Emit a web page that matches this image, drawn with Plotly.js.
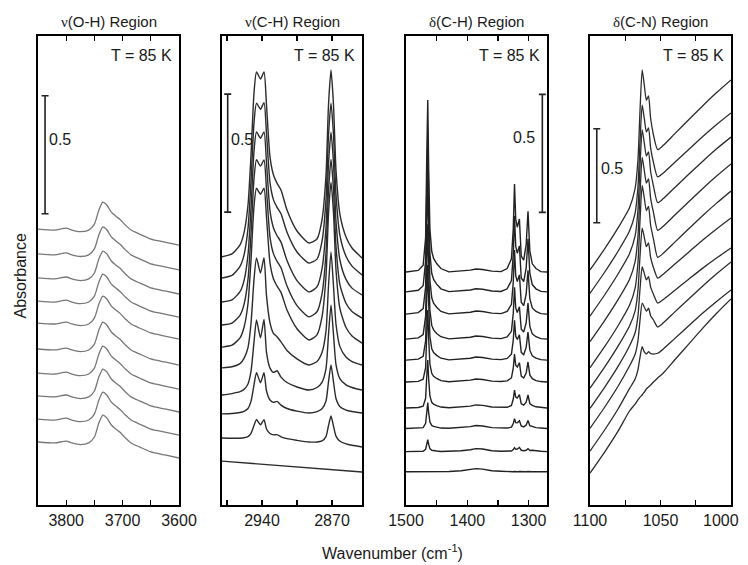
<!DOCTYPE html>
<html>
<head>
<meta charset="utf-8">
<script src="https://cdn.plot.ly/plotly-3.0.1.min.js"></script>
<style>html,body{margin:0;padding:0;background:#fff;}#chart{width:748px;height:565px;}</style>
</head>
<body>
<div id="chart"></div>
<script>
// ---------- DATA (absorbance, stacked spectra) ----------
// nu(O-H) region
const ohWn = [3850, 3820, 3800, 3790, 3775, 3760, 3750, 3742, 3735, 3728, 3720, 3712, 3705, 3695, 3685, 3670, 3650, 3625, 3600];
const ohAbs = [
  [0.267, 0.263, 0.271, 0.263, 0.256, 0.263, 0.288, 0.348, 0.381, 0.369, 0.339, 0.322, 0.309, 0.284, 0.263, 0.246, 0.225, 0.212, 0.199],
  [0.364, 0.360, 0.368, 0.360, 0.353, 0.360, 0.385, 0.445, 0.478, 0.466, 0.436, 0.419, 0.406, 0.381, 0.360, 0.343, 0.322, 0.309, 0.296],
  [0.462, 0.458, 0.466, 0.458, 0.451, 0.458, 0.483, 0.543, 0.576, 0.564, 0.534, 0.517, 0.504, 0.479, 0.458, 0.441, 0.420, 0.407, 0.394],
  [0.559, 0.555, 0.563, 0.555, 0.548, 0.555, 0.580, 0.640, 0.673, 0.661, 0.631, 0.614, 0.601, 0.576, 0.555, 0.538, 0.517, 0.504, 0.491],
  [0.661, 0.657, 0.665, 0.657, 0.650, 0.657, 0.682, 0.742, 0.775, 0.763, 0.733, 0.716, 0.703, 0.678, 0.657, 0.640, 0.619, 0.606, 0.593],
  [0.771, 0.767, 0.775, 0.767, 0.760, 0.767, 0.792, 0.852, 0.885, 0.873, 0.843, 0.826, 0.813, 0.788, 0.767, 0.750, 0.729, 0.716, 0.703],
  [0.864, 0.860, 0.868, 0.860, 0.853, 0.860, 0.885, 0.945, 0.978, 0.966, 0.936, 0.919, 0.906, 0.881, 0.860, 0.843, 0.822, 0.809, 0.796],
  [0.962, 0.958, 0.966, 0.958, 0.951, 0.958, 0.983, 1.043, 1.076, 1.064, 1.034, 1.017, 1.004, 0.979, 0.958, 0.941, 0.920, 0.907, 0.894],
  [1.064, 1.060, 1.068, 1.060, 1.053, 1.060, 1.085, 1.145, 1.178, 1.166, 1.136, 1.119, 1.106, 1.081, 1.060, 1.043, 1.022, 1.009, 0.996],
  [1.169, 1.165, 1.173, 1.165, 1.158, 1.165, 1.190, 1.250, 1.283, 1.271, 1.241, 1.224, 1.211, 1.186, 1.165, 1.148, 1.127, 1.114, 1.101]
];

// nu(C-H) region
const chBlankWn = [2980, 2840];
const chBlankAbs = [0.186, 0.140];
const chWn = [2980, 2970, 2962, 2958, 2954, 2951, 2948, 2945.5, 2941.5, 2938, 2935.5, 2932, 2928.5, 2925, 2921, 2915, 2905, 2893, 2885, 2880, 2876, 2873.5, 2871, 2868.5, 2866, 2862, 2856, 2850, 2840];
const chAbs = [
  [0.284, 0.283, 0.283, 0.285, 0.290, 0.304, 0.337, 0.362, 0.340, 0.361, 0.322, 0.303, 0.297, 0.298, 0.289, 0.281, 0.274, 0.267, 0.267, 0.272, 0.290, 0.336, 0.377, 0.334, 0.292, 0.270, 0.259, 0.253, 0.246],
  [0.386, 0.388, 0.392, 0.397, 0.409, 0.439, 0.509, 0.561, 0.518, 0.561, 0.483, 0.445, 0.435, 0.439, 0.423, 0.409, 0.398, 0.390, 0.396, 0.408, 0.441, 0.522, 0.593, 0.522, 0.451, 0.416, 0.402, 0.396, 0.390],
  [0.466, 0.472, 0.480, 0.490, 0.513, 0.566, 0.690, 0.784, 0.708, 0.786, 0.647, 0.580, 0.562, 0.569, 0.542, 0.519, 0.500, 0.487, 0.498, 0.520, 0.578, 0.722, 0.847, 0.722, 0.595, 0.534, 0.509, 0.498, 0.487],
  [0.581, 0.586, 0.599, 0.621, 0.667, 0.769, 0.955, 1.047, 0.983, 1.048, 0.887, 0.772, 0.727, 0.713, 0.691, 0.655, 0.619, 0.593, 0.608, 0.646, 0.737, 0.928, 1.072, 0.928, 0.766, 0.670, 0.627, 0.608, 0.593],
  [0.669, 0.677, 0.708, 0.752, 0.854, 1.038, 1.266, 1.342, 1.317, 1.342, 1.220, 1.026, 0.958, 0.928, 0.901, 0.826, 0.747, 0.699, 0.721, 0.797, 0.969, 1.233, 1.368, 1.239, 0.996, 0.831, 0.752, 0.716, 0.686],
  [0.763, 0.771, 0.804, 0.849, 0.956, 1.146, 1.383, 1.463, 1.436, 1.462, 1.336, 1.135, 1.064, 1.033, 1.005, 0.928, 0.845, 0.797, 0.819, 0.895, 1.068, 1.331, 1.464, 1.337, 1.096, 0.932, 0.855, 0.820, 0.792],
  [0.860, 0.869, 0.904, 0.950, 1.060, 1.256, 1.499, 1.581, 1.554, 1.581, 1.452, 1.246, 1.174, 1.142, 1.114, 1.036, 0.951, 0.903, 0.924, 1.001, 1.176, 1.444, 1.580, 1.449, 1.203, 1.036, 0.956, 0.919, 0.890],
  [0.962, 0.973, 1.011, 1.059, 1.172, 1.371, 1.619, 1.703, 1.677, 1.705, 1.575, 1.366, 1.293, 1.262, 1.234, 1.156, 1.072, 1.025, 1.042, 1.117, 1.294, 1.566, 1.703, 1.569, 1.314, 1.140, 1.054, 1.012, 0.975],
  [1.052, 1.064, 1.102, 1.153, 1.271, 1.483, 1.746, 1.835, 1.805, 1.835, 1.695, 1.475, 1.398, 1.364, 1.335, 1.250, 1.161, 1.110, 1.127, 1.208, 1.398, 1.695, 1.843, 1.695, 1.419, 1.229, 1.136, 1.089, 1.047]
];

// delta(C-H) region
const dchWn = [1500, 1480, 1472, 1468, 1466, 1464.5, 1463, 1461, 1458, 1455, 1450, 1443, 1430, 1410, 1395, 1386, 1375, 1360, 1345, 1335, 1328, 1325, 1323, 1321, 1318.5, 1315, 1312, 1308, 1304, 1301, 1298, 1294, 1288, 1280, 1270];
const dchAbs = [
  [0.141,0.141,0.141,0.141,0.141,0.142,0.141,0.141,0.141,0.141,0.141,0.141,0.142,0.145,0.149,0.154,0.152,0.145,0.143,0.141,0.141,0.141,0.142,0.141,0.141,0.142,0.141,0.141,0.141,0.142,0.141,0.141,0.141,0.141,0.141],
  [0.226,0.227,0.228,0.236,0.262,0.277,0.257,0.239,0.232,0.230,0.229,0.227,0.227,0.230,0.234,0.239,0.237,0.230,0.228,0.227,0.229,0.235,0.243,0.236,0.237,0.244,0.232,0.230,0.232,0.239,0.231,0.232,0.229,0.228,0.226],
  [0.324,0.325,0.328,0.346,0.401,0.434,0.390,0.352,0.337,0.333,0.330,0.326,0.325,0.328,0.332,0.337,0.335,0.328,0.326,0.326,0.330,0.345,0.366,0.349,0.348,0.357,0.335,0.331,0.339,0.358,0.336,0.332,0.328,0.326,0.324],
  [0.411,0.413,0.419,0.452,0.553,0.614,0.533,0.462,0.435,0.427,0.421,0.415,0.412,0.415,0.419,0.424,0.422,0.415,0.413,0.414,0.422,0.449,0.487,0.457,0.453,0.468,0.429,0.423,0.436,0.466,0.430,0.422,0.416,0.413,0.411],
  [0.521,0.524,0.533,0.582,0.735,0.826,0.704,0.597,0.558,0.545,0.536,0.527,0.522,0.525,0.529,0.534,0.532,0.525,0.523,0.526,0.539,0.581,0.640,0.592,0.585,0.603,0.546,0.538,0.559,0.606,0.551,0.535,0.527,0.523,0.521],
  [0.614,0.618,0.630,0.695,0.896,1.017,0.856,0.715,0.662,0.646,0.634,0.622,0.615,0.618,0.622,0.627,0.625,0.618,0.616,0.621,0.639,0.699,0.783,0.715,0.701,0.721,0.647,0.637,0.668,0.733,0.656,0.632,0.622,0.616,0.614],
  [0.703,0.708,0.722,0.800,1.044,1.190,0.995,0.825,0.761,0.742,0.727,0.713,0.704,0.707,0.711,0.716,0.714,0.707,0.705,0.712,0.736,0.813,0.923,0.835,0.816,0.840,0.745,0.733,0.772,0.856,0.757,0.725,0.713,0.705,0.703],
  [0.809,0.815,0.832,0.923,1.209,1.381,1.152,0.952,0.878,0.855,0.838,0.820,0.810,0.813,0.817,0.822,0.820,0.813,0.811,0.820,0.850,0.945,1.080,0.972,0.947,0.975,0.859,0.845,0.893,0.995,0.874,0.835,0.820,0.811,0.809],
  [0.903,0.910,0.929,1.034,1.363,1.560,1.297,1.067,0.982,0.956,0.936,0.916,0.904,0.907,0.911,0.916,0.914,0.907,0.905,0.916,0.951,1.064,1.225,1.096,1.067,1.098,0.962,0.947,1.004,1.128,0.982,0.934,0.916,0.905,0.903],
  [0.987,0.994,1.016,1.133,1.497,1.716,1.424,1.169,1.074,1.045,1.023,1.002,0.988,0.991,0.995,1.000,0.998,0.991,0.989,1.002,1.043,1.174,1.360,1.211,1.177,1.212,1.055,1.038,1.103,1.245,1.077,1.022,1.002,0.989,0.987]
];

// delta(C-N) region
const cnWn = [1100, 1090, 1080, 1072, 1068, 1066, 1064.5, 1063, 1061.5, 1060, 1058.5, 1057, 1055, 1052, 1048, 1040, 1030, 1020, 1010, 1000];
const cnAbs = [
  [0.169, 0.277, 0.394, 0.500, 0.537, 0.559, 0.574, 0.585, 0.601, 0.617, 0.628, 0.638, 0.654, 0.676, 0.702, 0.771, 0.856, 0.941, 1.021, 1.096],
  [0.287, 0.395, 0.512, 0.619, 0.670, 0.719, 0.788, 0.842, 0.814, 0.803, 0.816, 0.806, 0.803, 0.807, 0.830, 0.885, 0.953, 1.021, 1.084, 1.144],
  [0.408, 0.516, 0.633, 0.739, 0.802, 0.873, 0.986, 1.074, 1.053, 1.031, 1.047, 1.007, 0.984, 0.947, 0.969, 1.026, 1.096, 1.165, 1.231, 1.293],
  [0.514, 0.622, 0.739, 0.846, 0.916, 1.005, 1.152, 1.266, 1.232, 1.197, 1.215, 1.159, 1.121, 1.074, 1.093, 1.141, 1.201, 1.260, 1.315, 1.367],
  [0.621, 0.729, 0.846, 0.952, 1.033, 1.141, 1.328, 1.473, 1.424, 1.374, 1.394, 1.317, 1.263, 1.207, 1.228, 1.280, 1.345, 1.410, 1.470, 1.527],
  [0.730, 0.838, 0.955, 1.062, 1.154, 1.286, 1.518, 1.700, 1.633, 1.566, 1.588, 1.488, 1.415, 1.317, 1.339, 1.397, 1.469, 1.540, 1.607, 1.670],
  [0.869, 0.977, 1.094, 1.200, 1.294, 1.428, 1.663, 1.849, 1.780, 1.712, 1.734, 1.631, 1.557, 1.461, 1.483, 1.541, 1.613, 1.684, 1.751, 1.814],
  [1.005, 1.113, 1.230, 1.337, 1.431, 1.568, 1.807, 1.996, 1.926, 1.856, 1.878, 1.774, 1.698, 1.608, 1.630, 1.688, 1.759, 1.829, 1.896, 1.957],
  [1.126, 1.234, 1.351, 1.457, 1.553, 1.691, 1.936, 2.128, 2.056, 1.984, 2.006, 1.900, 1.822, 1.745, 1.766, 1.822, 1.891, 1.960, 2.025, 2.085],
  [1.250, 1.358, 1.475, 1.581, 1.684, 1.835, 2.104, 2.315, 2.234, 2.153, 2.176, 2.057, 1.969, 1.890, 1.913, 1.974, 2.049, 2.124, 2.195, 2.261]
];

const panelTitles = ['ν(O-H) Region', 'ν(C-H) Region', 'δ(C-H) Region', 'δ(C-N) Region'];
const tempLabel = 'T = 85 K';
const scaleLabel = '0.5';
// labelled major ticks and unlabelled minor ticks
const xTickVals = [[3800, 3700, 3600], [2940, 2870], [1500, 1400, 1300], [1100, 1050]];
const xMinorVals = [[3750, 3650], [2975, 2905], [1450, 1350], [1075, 1025, 1000]];
const edgeTickLabel = '1000';

// ---------- BUILD ----------
const W = 748, H = 565;
const FONT = 'Liberation Sans, Arial, Helvetica, sans-serif';
const px = v => v / W, py = v => 1 - v / H;

const panels = [
  {xa: 'x',  ya: 'y',  dom: [38, 179],  xr: [3850, 3600], yr: [0, 469 / 236], color: '#777777', w: 1.3, shape: 'spline'},
  {xa: 'x2', ya: 'y2', dom: [222, 362], xr: [2980, 2840], yr: [0, 469 / 236], color: '#2b2b2b', w: 1.4, shape: 'spline'},
  {xa: 'x3', ya: 'y3', dom: [406, 547], xr: [1500, 1270], yr: [0, 469 / 236], color: '#222222', w: 1.4, shape: 'linear'},
  {xa: 'x4', ya: 'y4', dom: [590, 731], xr: [1100, 1000], yr: [0, 469 / 188], color: '#2b2b2b', w: 1.3, shape: 'spline'}
];

const traces = [];
function addSpectra(p, wn, list) {
  list.forEach(ys => traces.push({
    type: 'scatter', mode: 'lines', x: wn, y: ys, xaxis: p.xa, yaxis: p.ya,
    line: {color: p.color, width: p.w, shape: p.shape, smoothing: 0.6},
    hoverinfo: 'skip', showlegend: false
  }));
}
addSpectra(panels[0], ohWn, ohAbs);
traces.push({type: 'scatter', mode: 'lines', x: chBlankWn, y: chBlankAbs, xaxis: 'x2', yaxis: 'y2',
  line: {color: panels[1].color, width: panels[1].w}, hoverinfo: 'skip', showlegend: false});
addSpectra(panels[1], chWn, chAbs);
addSpectra(panels[2], dchWn, dchAbs);
addSpectra(panels[3], cnWn, cnAbs);

// 0.5 absorbance scale bars (error bar of +/-0.25 around a centre)
const bars = [
  {p: 0, x: 3837.5, y: 1.484},
  {p: 1, x: 2974.3, y: 1.491},
  {p: 2, x: 1277.6, y: 1.490},
  {p: 3, x: 1095.2, y: 1.751}
];
bars.forEach(b => traces.push({
  type: 'scatter', mode: 'markers', x: [b.x], y: [b.y], xaxis: panels[b.p].xa, yaxis: panels[b.p].ya,
  marker: {size: 2, color: 'rgba(0,0,0,0)'},
  error_y: {type: 'data', array: [0.25], visible: true, width: 3.5, thickness: 1.6, color: '#222'},
  hoverinfo: 'skip', showlegend: false
}));

const layout = {
  width: W, height: H, margin: {l: 0, r: 0, t: 0, b: 0},
  paper_bgcolor: '#fff', plot_bgcolor: '#fff', showlegend: false,
  font: {family: FONT, size: 16, color: '#1a1a1a'},
  annotations: []
};
const yDom = [py(505), py(36)];
panels.forEach((p, i) => {
  const sx = i === 0 ? '' : String(i + 1);
  layout['xaxis' + sx] = {
    domain: [px(p.dom[0]), px(p.dom[1])], range: p.xr, anchor: p.ya,
    showline: true, linecolor: '#000', linewidth: 1.6, mirror: 'ticks',
    ticks: 'inside', ticklen: 5, tickwidth: 1.3, tickcolor: '#000',
    tickmode: 'array', tickvals: xTickVals[i], ticktext: xTickVals[i].map(String),
    minor: {tickmode: 'array', tickvals: xMinorVals[i], ticks: 'inside', ticklen: 5, tickwidth: 1.3, tickcolor: '#000', showgrid: false},
    tickfont: {family: FONT, size: 16, color: '#1a1a1a'},
    showgrid: false, zeroline: false, fixedrange: true
  };
  layout['yaxis' + sx] = {
    domain: yDom, range: p.yr, anchor: p.xa,
    showline: true, linecolor: '#000', linewidth: 1.6, mirror: true,
    ticks: '', showticklabels: false, showgrid: false, zeroline: false, fixedrange: true
  };
  const cx = (p.dom[0] + p.dom[1]) / 2;
  const greek = panelTitles[i].charAt(0), rest = panelTitles[i].slice(1);
  layout.annotations.push({
    xref: 'paper', yref: 'paper', x: px(cx), y: py(21), xanchor: 'center', yanchor: 'middle',
    text: '<span style="font-family:Liberation Serif, serif">' + greek + '</span>' + rest,
    showarrow: false, font: {family: FONT, size: 15, color: '#1a1a1a'}
  });
  layout.annotations.push({
    xref: 'paper', yref: 'paper', x: px(p.dom[1] - 5), y: py(55), xanchor: 'right', yanchor: 'middle',
    text: tempLabel, showarrow: false, font: {family: FONT, size: 16, color: '#1a1a1a'}
  });
});
// right-edge tick label of the last panel (kept inside the figure, as in the original)
layout.annotations.push({xref: 'paper', yref: 'paper', x: px(721), y: py(520), xanchor: 'center', yanchor: 'middle',
  text: edgeTickLabel, showarrow: false, font: {family: FONT, size: 16, color: '#1a1a1a'}});
// 0.5 labels
[[47, 139, 'left'], [229, 140, 'left'], [537, 137, 'right'], [598.5, 168, 'left']].forEach(a => {
  layout.annotations.push({xref: 'paper', yref: 'paper', x: px(a[0]), y: py(a[1]), xanchor: a[2], yanchor: 'middle',
    text: scaleLabel, showarrow: false, font: {family: FONT, size: 16, color: '#1a1a1a'}});
});
// axis titles
layout.annotations.push({xref: 'paper', yref: 'paper', x: px(19.5), y: py(276), xanchor: 'center', yanchor: 'middle',
  text: 'Absorbance', textangle: -90, showarrow: false, font: {family: FONT, size: 16, color: '#1a1a1a'}});
layout.annotations.push({xref: 'paper', yref: 'paper', x: px(392), y: py(552), xanchor: 'center', yanchor: 'middle',
  text: 'Wavenumber (cm<sup>-1</sup>)', showarrow: false, font: {family: FONT, size: 16, color: '#1a1a1a'}});

Plotly.newPlot('chart', traces, layout, {staticPlot: true, displayModeBar: false});
</script>
</body>
</html>
